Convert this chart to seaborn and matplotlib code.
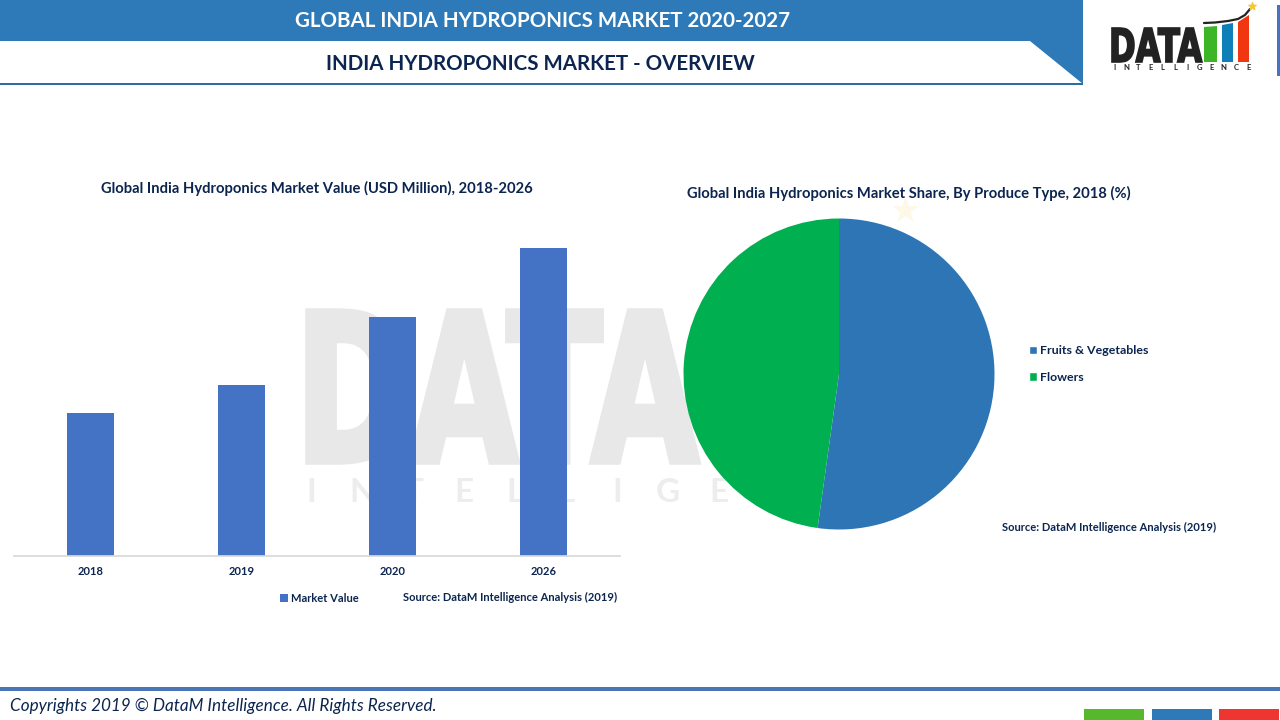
import numpy as np
import pandas as pd
import matplotlib
matplotlib.use('Agg')
import matplotlib.pyplot as plt
import seaborn as sns
from matplotlib.patches import PathPatch, Polygon, Rectangle
from matplotlib.textpath import TextPath
from matplotlib.font_manager import FontProperties
from matplotlib.transforms import Affine2D

# --- Data ---
YEARS = ['2018', '2019', '2020', '2026']
MARKET_VALUE = [14.35, 17.1, 23.9, 30.8]
PRODUCE_TYPES = ['Fruits & Vegetables', 'Flowers']
PRODUCE_SHARE = [52.2, 47.8]

# --- Style ---
W, H = 1280, 720
NAVY = '#0b2550'
BAR_BLUE = '#4472c4'
HEAD_BLUE = '#2e7ab8'
PIE_GREEN = '#00b050'
WATERMARK = '#e8e8e8'

sns.set_theme(style='white')
plt.rcParams['font.family'] = ['Lato', 'DejaVu Sans']


def fit_text(ax, text, x0, y0, x1, y1, color, lw=0.6, family='Liberation Sans Narrow', zorder=1):
    """Draw text as a filled path stretched into a pixel box (y0 is the baseline)."""
    path = TextPath((0, 0), text, size=100, prop=FontProperties(family=family, weight='bold'))
    box = path.get_extents()
    tr = (Affine2D().translate(-box.x0, -box.y0)
          .scale((x1 - x0) / box.width, (y1 - y0) / box.height)
          .translate(x0, y0))
    ax.add_patch(PathPatch(path.transformed(tr), fc=color, ec=color, lw=lw, zorder=zorder))


def px_axes(fig, x0, y0, x1, y1):
    """Axes placed by pixel box, y measured from the top."""
    return fig.add_axes([x0 / W, 1 - y1 / H, (x1 - x0) / W, (y1 - y0) / H])


fig = plt.figure(figsize=(12.8, 7.2), dpi=100, facecolor='white')

# page background in pixel coordinates
bg = fig.add_axes([0, 0, 1, 1], zorder=0)
bg.set_xlim(0, W)
bg.set_ylim(H, 0)
bg.axis('off')

# header
bg.add_patch(Polygon([(0, 0), (1083, 0), (1083, 84), (1030, 41), (0, 41)], fc=HEAD_BLUE, ec='none'))
bg.add_patch(Rectangle((0, 83), 1083, 2, fc='#2a6f9e', ec='none'))
bg.add_patch(Rectangle((1277, 5), 3, 71, fc=BAR_BLUE, ec='none'))
bg.text(542.5, 21, 'GLOBAL INDIA HYDROPONICS MARKET 2020-2027', color='white', fontsize=14.8,
        fontweight='bold', ha='center', va='center')
bg.text(540.5, 63.5, 'INDIA HYDROPONICS MARKET - OVERVIEW', color=NAVY, fontsize=14.75,
        fontweight='bold', ha='center', va='center')

# logo
fit_text(bg, 'DATA', 1112, 62, 1202, 28, '#222222', lw=1.2)
bg.add_patch(Polygon([(1204, 62), (1204, 27), (1217, 26), (1217, 62)], fc='#3cb527', ec='none'))
bg.add_patch(Polygon([(1222, 62), (1222, 25), (1233, 23), (1233, 62)], fc='#0f7fb8', ec='none'))
bg.add_patch(Polygon([(1238, 62), (1238, 22), (1249, 15), (1249, 62)], fc='#f0370f', ec='none'))
bg.plot([1204, 1215, 1228, 1238, 1245, 1250], [23, 22.5, 21, 19, 15, 9], color='#222222', lw=1.6)
bg.scatter([1252], [6], marker='*', s=30, color='#f2c83a', zorder=3)
for i, letter in enumerate('INTELLIGENCE'):
    bg.text(1114 + i * 12.2, 68, letter, color='#222222', fontsize=5.5, fontweight='bold',
            ha='center', va='center')

# watermark
fit_text(bg, 'DATA', 308, 462, 698, 311, WATERMARK, lw=4)
for i, letter in enumerate('INTELLIGENCE'):
    bg.text(311 + i * 51, 493, letter, color='#ededed', fontsize=24, fontweight='bold',
            ha='center', va='center')
bg.scatter([905], [210], marker='*', s=300, color='#fdf8e8', zorder=1)

# footer
bg.add_patch(Rectangle((0, 687), W, 4, fc='#4a76b8', ec='none'))
bg.text(10, 706, 'Copyrights 2019 © DataM Intelligence. All Rights Reserved.', color=NAVY,
        fontsize=12.32, fontstyle='italic', ha='left', va='center')
for x0, c in zip([1084, 1152, 1219], ['#57b82e', '#2e7ab8', '#ee3530']):
    bg.add_patch(Rectangle((x0, 709), 60, 11, fc=c, ec='none'))

# bar chart
ax_bar = px_axes(fig, 14, 230, 620, 556)
ax_bar.patch.set_alpha(0)
df = pd.DataFrame({'Year': YEARS, 'Market Value': MARKET_VALUE})
sns.barplot(data=df, x='Year', y='Market Value', color=BAR_BLUE, saturation=1, width=0.311,
            linewidth=0, ax=ax_bar, label='Market Value')
ax_bar.set_ylim(0, 32.6)
ax_bar.set_xlim(-0.507, 3.506)
ax_bar.set_xlabel('')
ax_bar.set_ylabel('')
ax_bar.set_yticks([])
ax_bar.tick_params(axis='x', length=0, pad=7, labelsize=8, labelcolor=NAVY)
for lab in ax_bar.get_xticklabels():
    lab.set_fontweight('bold')
sns.despine(ax=ax_bar, left=True)
ax_bar.spines['bottom'].set_color('#d9d9d9')
ax_bar.legend(loc='center left', bbox_to_anchor=(274 / W, 1 - 598 / H), bbox_transform=fig.transFigure,
              frameon=False, handlelength=0.75, handleheight=0.75, handletextpad=0.3, borderpad=0,
              prop={'size': 8, 'weight': 'bold'}, labelcolor=NAVY)

# pie chart
ax_pie = px_axes(fig, 679, 214, 999, 534)
ax_pie.patch.set_alpha(0)
ax_pie.pie(PRODUCE_SHARE, colors=['#2e75b6', PIE_GREEN], startangle=90, counterclock=False,
           radius=155.5 / 160, center=(0, 0), wedgeprops={'linewidth': 0, 'edgecolor': 'none'})
ax_pie.set_xlim(-1, 1)
ax_pie.set_ylim(-1, 1)
handles = [Rectangle((0, 0), 1, 1, fc=c) for c in ['#2e75b6', PIE_GREEN]]
ax_pie.legend(handles, PRODUCE_TYPES, loc='center left', bbox_to_anchor=(1023 / W, 1 - 364 / H),
              bbox_transform=fig.transFigure, frameon=False, handlelength=0.6, handleheight=0.7,
              handletextpad=0.25, borderpad=0, labelspacing=1.25,
              prop={'size': 8.9, 'weight': 'bold'}, labelcolor=NAVY)

# chart titles and sources
bg.text(317, 188, 'Global India Hydroponics Market Value (USD Million), 2018-2026', color=NAVY,
        fontsize=10.6, fontweight='bold', ha='center', va='center')
bg.text(908.5, 193, 'Global India Hydroponics Market Share, By Produce Type, 2018 (%)', color=NAVY,
        fontsize=10.58, fontweight='bold', ha='center', va='center')
bg.text(617, 597, 'Source: DataM Intelligence Analysis (2019)', color=NAVY, fontsize=8.0,
        fontweight='bold', ha='right', va='center')
bg.text(1216, 527, 'Source: DataM Intelligence Analysis (2019)', color=NAVY, fontsize=8.0,
        fontweight='bold', ha='right', va='center')

fig.savefig('out.png', dpi=100)
